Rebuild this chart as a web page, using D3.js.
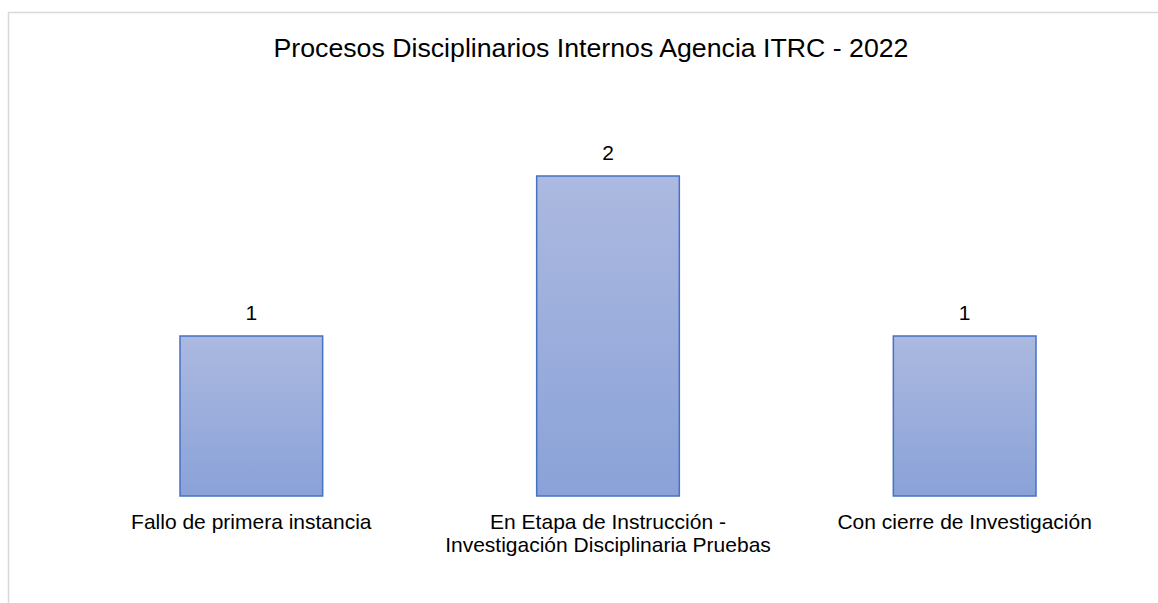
<!DOCTYPE html>
<html>
<head>
<meta charset="utf-8">
<script src="https://cdn.jsdelivr.net/npm/d3@7"></script>
<style>
  body { margin: 0; background: #fff; }
  svg { display: block; font-family: "Liberation Sans", Arial, sans-serif; }
</style>
</head>
<body>
<svg id="chart" width="1158" height="603"></svg>
<script>
const categories = [
    ['Fallo de primera instancia'],
    ['En Etapa de Instrucción -', 'Investigación Disciplinaria Pruebas'],
    ['Con cierre de Investigación']
];
const values = [1, 2, 1];
const title = 'Procesos Disciplinarios Internos Agencia ITRC - 2022';

const svg = d3.select('#chart');

// Chart frame (runs off the right and bottom edges)
svg.append('rect')
    .attr('x', 8.5)
    .attr('y', 12.5)
    .attr('width', 1200)
    .attr('height', 700)
    .attr('fill', '#fff')
    .attr('stroke', '#d9d9d9')
    .attr('stroke-width', 1.5);

// Gradient for the bars
const grad = svg.append('defs').append('linearGradient')
    .attr('id', 'barFill')
    .attr('x1', 0).attr('y1', 0)
    .attr('x2', 0).attr('y2', 1);
grad.append('stop').attr('offset', '0%').attr('stop-color', '#acb9e0');
grad.append('stop').attr('offset', '100%').attr('stop-color', '#8aa2d8');

const x = d3.scaleBand()
    .domain(d3.range(values.length))
    .range([73, 1143])
    .paddingInner(0.6)
    .paddingOuter(0.3);

const y = d3.scaleLinear()
    .domain([0, 2])
    .range([496, 176]);

// Title
svg.append('text')
    .attr('x', 591)
    .attr('y', 57)
    .attr('text-anchor', 'middle')
    .attr('font-size', '26.7px')
    .attr('fill', '#000')
    .text(title);

// Bars
svg.append('g')
    .selectAll('rect')
    .data(values)
    .join('rect')
    .attr('x', (d, i) => x(i))
    .attr('y', d => y(d))
    .attr('width', x.bandwidth())
    .attr('height', d => y(0) - y(d))
    .attr('fill', 'url(#barFill)')
    .attr('stroke', '#4472c4')
    .attr('stroke-width', 1.5);

// Value labels
svg.append('g')
    .selectAll('text')
    .data(values)
    .join('text')
    .attr('x', (d, i) => x(i) + x.bandwidth() / 2)
    .attr('y', d => y(d) - 16)
    .attr('text-anchor', 'middle')
    .attr('font-size', '21px')
    .attr('fill', '#000')
    .text(d => d);

// Category labels
const labels = svg.append('g')
    .selectAll('text')
    .data(categories)
    .join('text')
    .attr('x', (d, i) => x(i) + x.bandwidth() / 2)
    .attr('y', 529)
    .attr('text-anchor', 'middle')
    .attr('font-size', '21px')
    .attr('fill', '#000');

labels.selectAll('tspan')
    .data(d => d)
    .join('tspan')
    .attr('x', function() { return d3.select(this.parentNode).attr('x'); })
    .attr('dy', (d, i) => i === 0 ? 0 : 23)
    .text(d => d);
</script>
</body>
</html>
